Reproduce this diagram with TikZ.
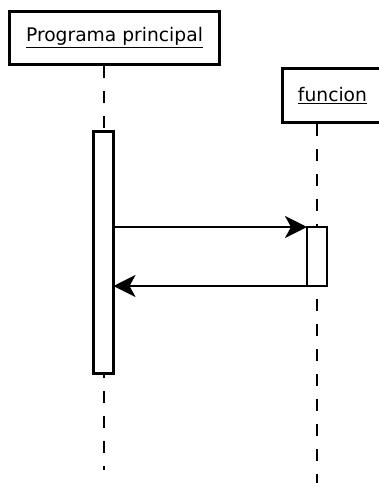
\documentclass[tikz,border=0pt]{standalone}
\usepackage{fontspec}
\setmainfont{DejaVu Sans}
\usetikzlibrary{arrows.meta}
\begin{document}
\begin{tikzpicture}[x=1pt,y=-1pt,
  obj/.style={draw,line width=3pt,fill=white,inner sep=0pt,outer sep=0pt,font=\fontsize{18.7}{21}\selectfont},
  act/.style={draw,line width=2.6pt,fill=white,inner sep=0pt,outer sep=0pt,minimum width=20pt},
  life/.style={line width=1.6pt,dash pattern=on 12pt off 13pt},
  msg/.style={line width=2.6pt,-{Stealth[length=22pt,width=22pt,inset=6pt]}}]
\useasboundingbox (0,0) rectangle (379,483);
\begin{scope}
\clip (0,0) rectangle (379,483);
% lifelines
\coordinate (e1) at (104,470);
\coordinate (e2) at (317,490);
\draw[life] (104,66) -- (e1);
\draw[life] (317,124) -- (e2);
% objects
\node[obj,minimum width=210pt,minimum height=53.5pt] (p) at (114.5,37.75) {\underline{Programa principal}};
\node[obj,minimum width=102.5pt,minimum height=54pt,anchor=north west] (f) at (282.5,68.5) {};
\node[font=\fontsize{18.7}{21}\selectfont,inner sep=0pt] (ft) at (332.5,95.5) {\underline{funcion}};
% activations
\node[act,minimum height=242pt,anchor=north] (a1) at (103.5,131.5) {};
\node[act,minimum height=59pt,anchor=north] (a2) at (317,227) {};
% messages
\draw[msg] (a1.east |- a2.north west) -- (a2.north west);
\draw[msg] (a2.south west) -- (a1.east |- a2.south west);
\end{scope}
\end{tikzpicture}
\end{document}
